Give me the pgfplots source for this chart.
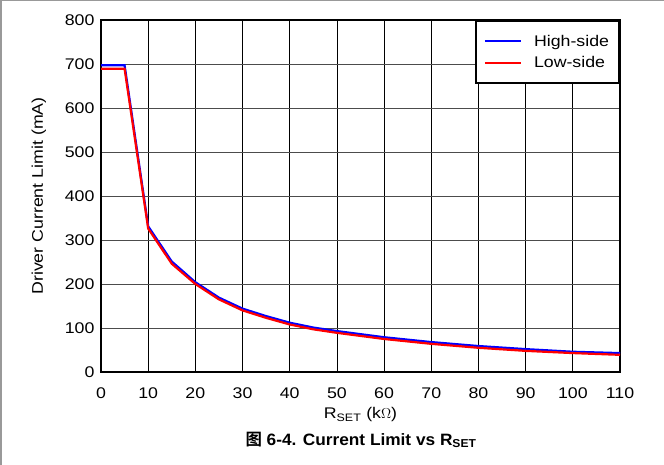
\documentclass[border=0pt]{standalone}
\usepackage{pgfplots}
\pgfplotsset{compat=1.18}
\usepackage{fontspec}
\setmainfont{Liberation Sans}[FakeStretch=1.15]
\newfontfamily\capfont{Liberation Sans}[FakeStretch=1.05]
\newfontfamily\cjk{Noto Sans CJK SC}[BoldFont={* Bold}]
\begin{document}
\begin{tikzpicture}[x=1bp,y=1bp]
\useasboundingbox (0,0) rectangle (664,465);
\draw[gray!80,line width=1.5bp] (0.75,0) -- (0.75,464.25) -- (664,464.25);
\begin{axis}[
  at={(101bp,93bp)}, anchor=south west,
  scale only axis, width=519bp, height=352bp,
  xmin=0, xmax=110, ymin=0, ymax=800,
  xtick={0,10,...,110}, ytick={0,100,...,800},
  grid=major,
  x grid style={black, line width=0.8bp},
  y grid style={black!70, line width=0.8bp},
  axis line style={black, line width=2.2bp},
  tick style={draw=none},
  ticklabel style={font=\fontsize{15.5}{17}\selectfont},
  xticklabel style={yshift=-12bp},
  yticklabel style={xshift=-3bp},
  /pgf/number format/assume math mode=true,
  xlabel={R\textsubscript{SET} (k$\Omega$)},
  ylabel={Driver Current Limit (mA)},
  label style={font=\fontsize{15.5}{17}\selectfont},
  xlabel style={yshift=-2bp},
  ylabel style={yshift=12bp},
  legend style={at={(1,1)}, anchor=north east, draw=black, line width=2bp,
    font=\fontsize{15.5}{17}\selectfont, inner xsep=8bp, inner ysep=12bp,
    row sep=5bp, column sep=10bp},
  legend cell align=left,
  legend image code/.code={\draw[#1, line width=2.2bp] (0bp,0bp) -- (36bp,0bp);},
]
\addplot[blue, line width=2.2bp] coordinates {
(0,697) (5,697) (10,331) (15,251) (20,204) (25,169) (30,144) (35,127) (40,112)
(45,101) (50,93) (60,79) (70,68) (80,59) (90,52) (100,46) (110,43)};
\addlegendentry{High-side}
\addplot[red, line width=2.2bp] coordinates {
(0,689) (5,689) (10,326) (15,246) (20,200) (25,165) (30,140) (35,123) (40,108)
(45,97) (50,89) (60,75) (70,64) (80,55) (90,48) (100,43) (110,39)};
\addlegendentry{Low-side}
\end{axis}
\node[font=\fontsize{16.5}{18}\capfont\bfseries] at (361,25) {{\cjk\bfseries 图} 6-4. Current Limit vs R\textsubscript{SET}};
\end{tikzpicture}
\end{document}
